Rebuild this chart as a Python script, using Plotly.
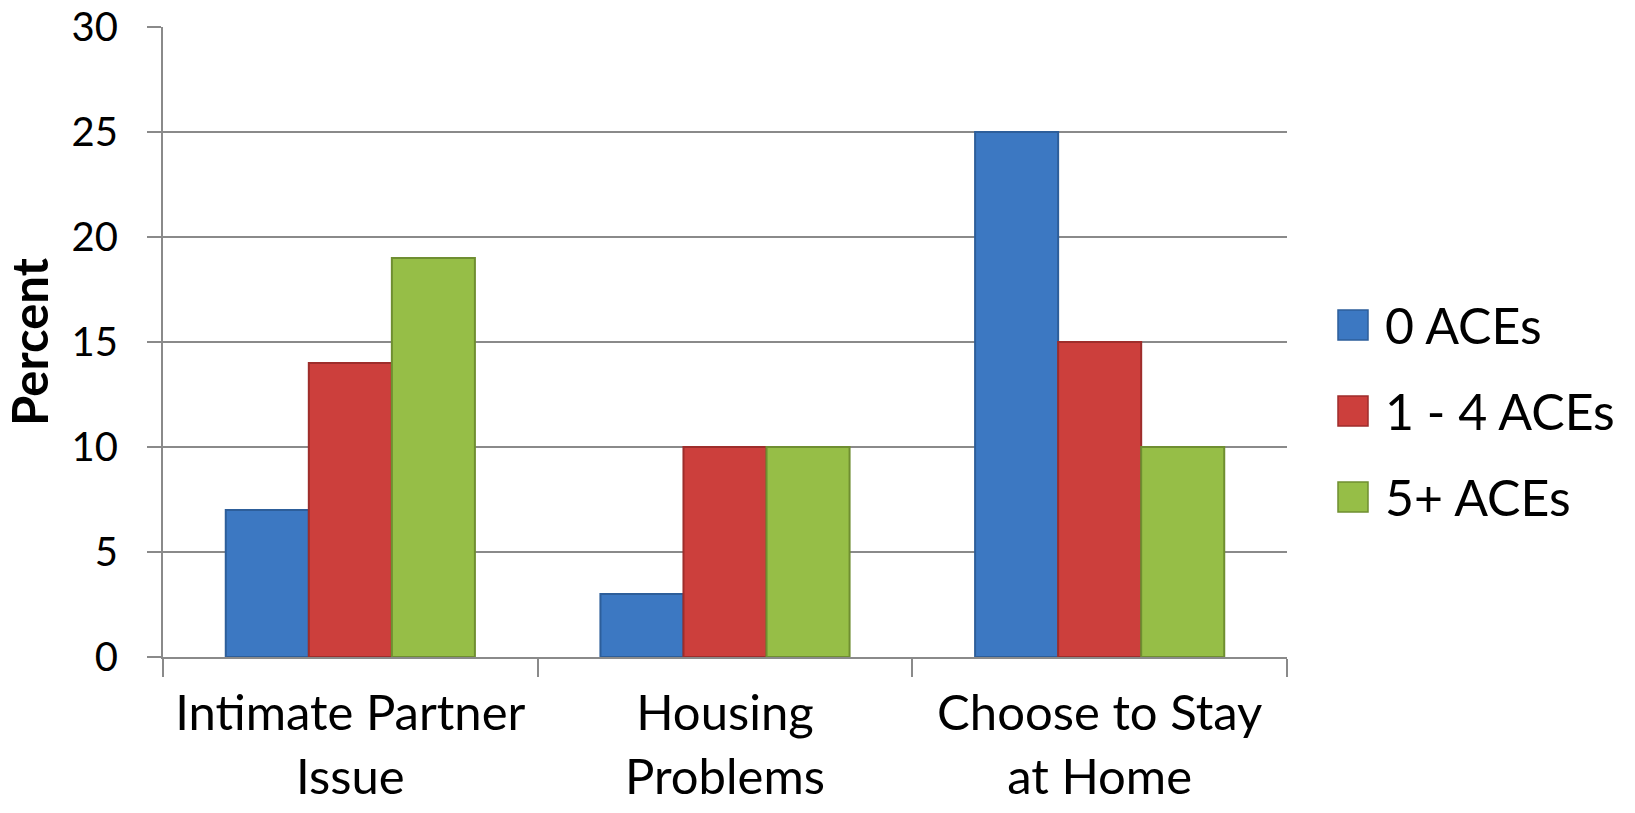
import plotly.graph_objects as go

# Chart data
categories = ["Intimate Partner<br>Issue", "Housing<br>Problems", "Choose to Stay<br>at Home"]
series_names = ["0 ACEs", "1 - 4 ACEs", "5+ ACEs"]
aces_0 = [7, 3, 25]
aces_1_4 = [14, 10, 15]
aces_5_plus = [19, 10, 10]
y_ticks = [0, 5, 10, 15, 20, 25, 30]

series_values = [aces_0, aces_1_4, aces_5_plus]
fill_colors = ["#3C78C2", "#CC3F3C", "#96BE47"]
edge_colors = ["#2D5E9A", "#9E2D2B", "#6F8E31"]

W, H = 1635, 813
left, right, top, bottom = 163, 348, 27, 156
plot_w = W - left - right
plot_h = H - top - bottom

FONT = "Lato"
GRID = "#8A8A8A"

fig = go.Figure()
for name, vals, fc, ec in zip(series_names, series_values, fill_colors, edge_colors):
    fig.add_trace(go.Bar(
        x=categories, y=vals, name=name,
        marker=dict(color=fc, line=dict(color=ec, width=2)),
        showlegend=False,
    ))

# Legend drawn as large swatches with text beside them
def px_to_paper(px, py):
    return (px - left) / plot_w, (H - bottom - py) / plot_h

legend_rows_y = [325, 411, 497]
sw = 30
for name, fc, ec, cy in zip(series_names, fill_colors, edge_colors, legend_rows_y):
    x0, y0 = px_to_paper(1338, cy + sw / 2)
    x1, y1 = px_to_paper(1338 + sw, cy - sw / 2)
    fig.add_shape(type="rect", xref="paper", yref="paper", x0=x0, x1=x1, y0=y0, y1=y1,
                  fillcolor=fc, line=dict(color=ec, width=1.5), layer="above")
    tx, ty = px_to_paper(1383, cy)
    fig.add_annotation(xref="paper", yref="paper", x=tx, y=ty, text=name, showarrow=False,
                       xanchor="left", yanchor="middle",
                       font=dict(family=FONT, size=50, color="black"))

fig.update_layout(
    width=W, height=H,
    margin=dict(l=left, r=right, t=top, b=bottom, pad=0),
    paper_bgcolor="white", plot_bgcolor="white",
    barmode="group", bargap=0.335, bargroupgap=0,
    font=dict(family=FONT, color="black"),
)
fig.update_xaxes(
    automargin=False,
    showline=True, linecolor=GRID, linewidth=2,
    ticks="outside", tickson="boundaries", ticklen=18, tickcolor=GRID, tickwidth=2,
    tickfont=dict(family=FONT, size=49, color="black"),
    ticklabelstandoff=12,
    showgrid=False,
)
fig.update_yaxes(
    automargin=False,
    range=[0, 30], tickvals=y_ticks, showline=True, linecolor=GRID, linewidth=2,
    ticks="outside", ticklen=14, tickcolor=GRID, tickwidth=2,
    showgrid=True, gridcolor=GRID, gridwidth=2,
    tickfont=dict(family=FONT, size=40, color="black"),
    ticklabelstandoff=21,
    zeroline=False,
    title=dict(text="<b>Percent</b>", font=dict(family=FONT, size=49, color="black"), standoff=16),
)

fig.write_html("out.html")
